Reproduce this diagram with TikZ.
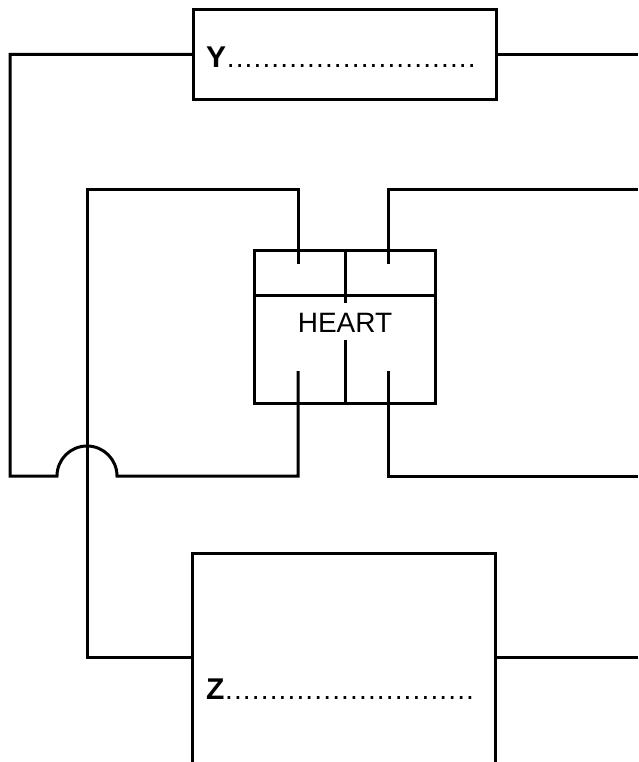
\documentclass[tikz,border=0pt]{standalone}
\usepackage{fontspec}
\setmainfont{Liberation Sans}
\newcommand{\dotrow}[1]{\hbox to #1{\xleaders\hbox to 8.8pt{\hss\fontsize{28}{28}\mdseries.\hss}\hfill}}
\begin{document}
\begin{tikzpicture}[x=1pt,y=-1pt,
  wire/.style={line width=3pt, line join=miter},
  box/.style={draw, line width=3pt, rectangle, inner sep=0pt},
  lab/.style={inner sep=0pt, anchor=base west, font=\bfseries\fontsize{30}{30}\selectfont},
  heartlab/.style={inner sep=0pt, anchor=base, font=\fontsize{28}{28}\selectfont}]
\useasboundingbox (0,0) rectangle (638,762);
% boxes
\node[box, minimum width=303pt, minimum height=90pt, anchor=north west] (Y) at (192,8) {};
\node[box, minimum width=181pt, minimum height=153pt, anchor=north west] (heart) at (253,249) {};
\node[inner sep=0pt, minimum width=303pt, minimum height=214pt, anchor=north west] (Z) at (192,553) {};
\draw[wire] (Z.south west) -- (Z.north west) -- (Z.north east) -- (Z.south east);
% labels
\node[lab] (ylab) at (206,68) {Y\dotrow{250pt}};
\node[lab] (zlab) at (206,699) {Z\dotrow{250pt}};
\node[heartlab] (hlab) at (345,332) {HEART};
% heart inner lines
\draw[wire] ([yshift=-46pt]heart.north west) -- ([yshift=-46pt]heart.north east);
\draw[wire] (heart.north) -- ++(0,54);
\draw[wire] (heart.south) -- ++(0,-65);
% connection points
\coordinate (tl) at (298,264);
\coordinate (tr) at (388,264);
\coordinate (bl) at (298,371);
\coordinate (br) at (388,371);
\coordinate (edgeA) at (638,189);
\coordinate (edgeB) at (638,476);
\coordinate (edgeY) at (638,53);
\coordinate (edgeZ) at (638,657);
% wires
\draw[wire] (tl) -- (298,189) -- (87,189) -- (87,657) -- (Z.west |- edgeZ);
\draw[wire] (tr) -- (388,189) -- (edgeA);
\draw[wire] (bl) -- (298,476) -- (117,476) arc[start angle=0, end angle=180, radius=30pt] -- (10,476) |- (Y.west);
\draw[wire] (br) -- (388,476) -- (edgeB);
\draw[wire] (Y.east) -- (Y.east -| edgeY);
\draw[wire] (Z.east |- edgeZ) -- (edgeZ);
\end{tikzpicture}
\end{document}
